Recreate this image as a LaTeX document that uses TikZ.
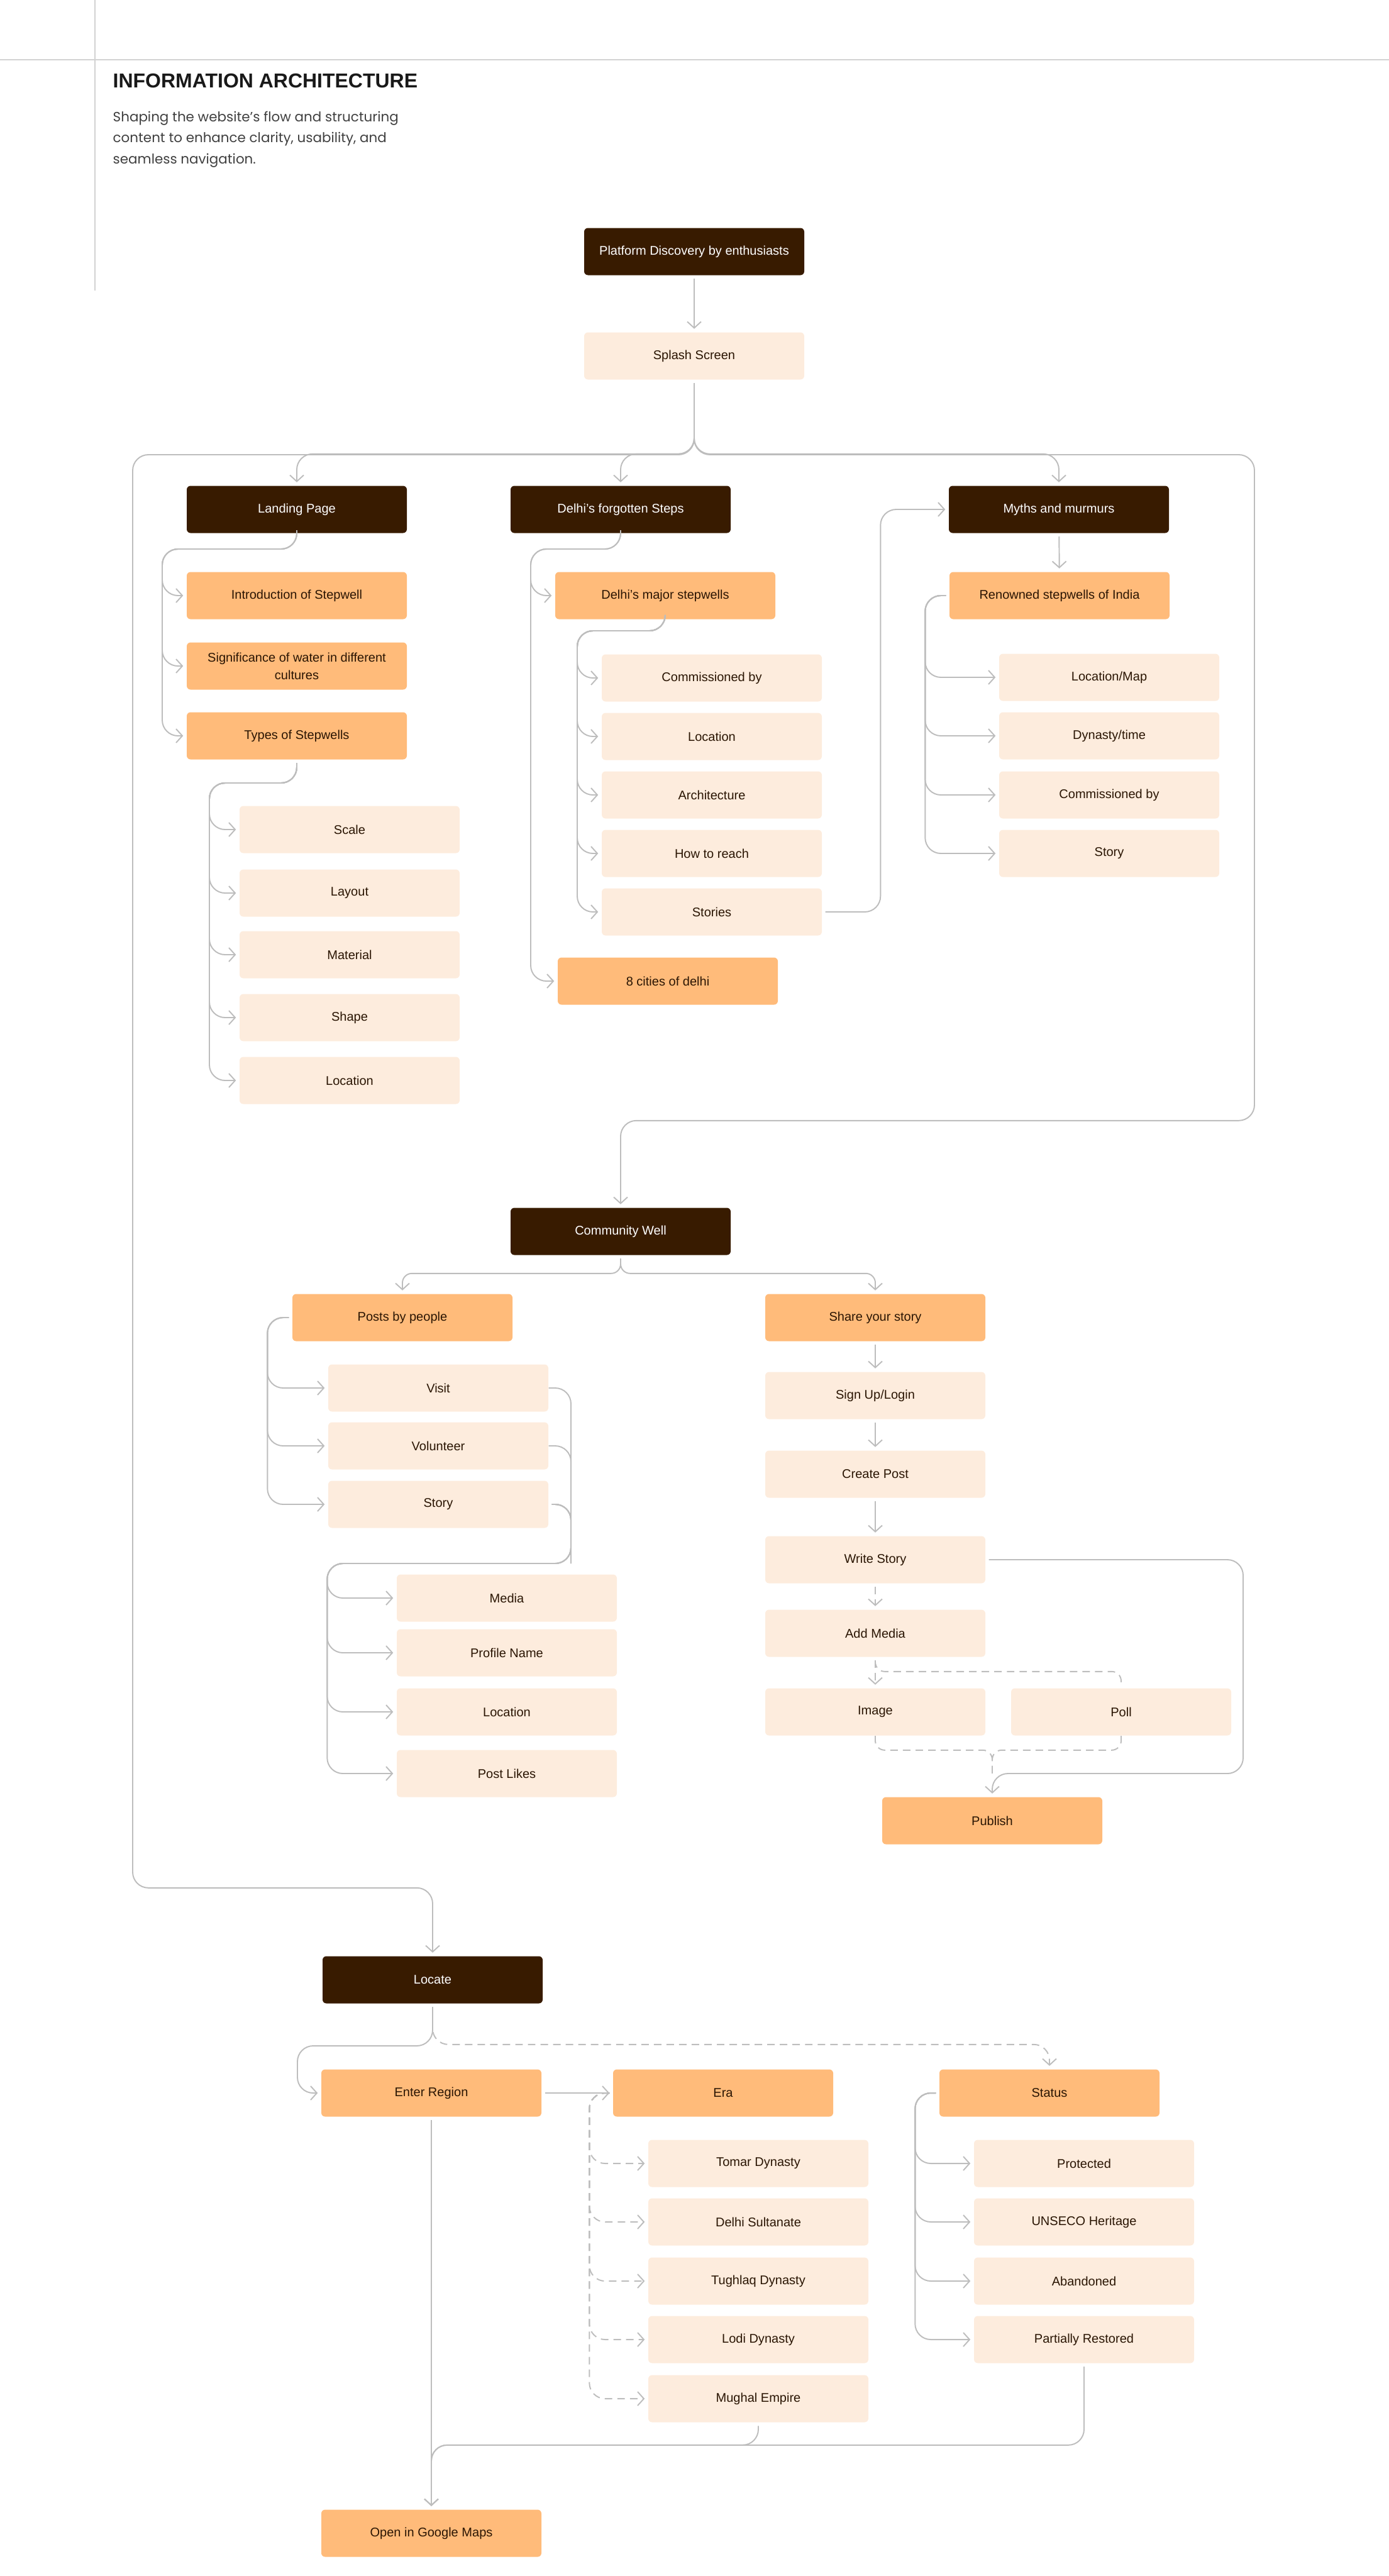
\documentclass[tikz,border=0pt]{standalone}
\usepackage{fontspec}
\setmainfont{Liberation Sans}
\newfontfamily\poppins{Poppins}
\usetikzlibrary{arrows.meta}

\definecolor{wellbrown}{HTML}{381B00}
\definecolor{wellorange}{HTML}{FFBB7A}
\definecolor{wellpeach}{HTML}{FDECDD}
\definecolor{inkbrown}{HTML}{2A1503}
\definecolor{linegray}{HTML}{BDBDBD}
\definecolor{rulegray}{HTML}{D2D2D2}

\begin{document}
\begin{tikzpicture}[
    screen/.style={rectangle, rounded corners=0.6mm, minimum width=3.5cm, minimum height=0.75cm, inner sep=0pt, align=center, font=\fontsize{5.7}{8}\selectfont},
    section/.style={screen, fill=wellbrown, text=white},
    topic/.style={screen, fill=wellorange, text=inkbrown},
    detail/.style={screen, fill=wellpeach, text=inkbrown},
    link/.style={draw=linegray, line width=0.55pt, rounded corners=2.5mm, -{Straight Barb[length=1mm, width=2.2mm]}, shorten <=0.5mm, shorten >=0.5mm},
    optional/.style={link, dash pattern=on 3.4pt off 2.3pt},
    joint/.style={draw=linegray, line width=0.55pt, rounded corners=2.5mm},
]

\useasboundingbox (0,0) rectangle (22.09,-40.96);

\draw[rulegray, line width=0.4pt] (0,-0.95) -- (22.09,-0.95);
\draw[rulegray, line width=0.4pt] (1.51,0) -- (1.51,-4.62);
\node[anchor=west, inner sep=0pt, text=black!90, font=\bfseries\fontsize{9.1}{11}\selectfont] (title) at (1.79,-1.28) {INFORMATION ARCHITECTURE};
\node[anchor=north west, inner sep=0pt, align=left, text=black!75, font=\poppins\fontsize{6.1}{9.6}\selectfont] (subtitle) at (1.79,-1.76) {Shaping the website’s flow and structuring\\content to enhance clarity, usability, and\\seamless navigation.};

\node[section] (platform) at (11.04,-4.00) {Platform Discovery by enthusiasts};
\node[detail] (splash) at (11.04,-5.66) {Splash Screen};

\node[section] (landing) at (4.72,-8.10) {Landing Page};
\node[section] (forgotten) at (9.87,-8.10) {Delhi’s forgotten Steps};
\node[section] (myths) at (16.84,-8.10) {Myths and murmurs};

\node[topic] (intro) at (4.72,-9.47) {Introduction of Stepwell};
\node[topic] (signif) at (4.72,-10.59) {Significance of water in different\\cultures};
\node[topic] (types) at (4.72,-11.70) {Types of Stepwells};
\node[detail] (scale) at (5.56,-13.19) {Scale};
\node[detail] (layout) at (5.56,-14.20) {Layout};
\node[detail] (material) at (5.56,-15.18) {Material};
\node[detail] (shape) at (5.56,-16.18) {Shape};
\node[detail] (typeloc) at (5.56,-17.18) {Location};

\node[topic] (major) at (10.58,-9.47) {Delhi’s major stepwells};
\node[detail] (commiss) at (11.32,-10.78) {Commissioned by};
\node[detail] (majorloc) at (11.32,-11.71) {Location};
\node[detail] (archi) at (11.32,-12.64) {Architecture};
\node[detail] (reach) at (11.32,-13.57) {How to reach};
\node[detail] (stories) at (11.32,-14.50) {Stories};
\node[topic] (cities) at (10.62,-15.60) {8 cities of delhi};

\node[topic] (renowned) at (16.85,-9.47) {Renowned stepwells of India};
\node[detail] (locmap) at (17.64,-10.77) {Location/Map};
\node[detail] (dynasty) at (17.64,-11.70) {Dynasty/time};
\node[detail] (rcommiss) at (17.64,-12.64) {Commissioned by};
\node[detail] (rstory) at (17.64,-13.57) {Story};

\node[section] (community) at (9.87,-19.58) {Community Well};
\node[topic] (posts) at (6.40,-20.95) {Posts by people};
\node[topic] (share) at (13.92,-20.95) {Share your story};
\node[detail] (visit) at (6.97,-22.07) {Visit};
\node[detail] (volunteer) at (6.97,-22.99) {Volunteer};
\node[detail] (poststory) at (6.97,-23.92) {Story};
\node[detail] (media) at (8.06,-25.41) {Media};
\node[detail] (profile) at (8.06,-26.28) {Profile Name};
\node[detail] (postloc) at (8.06,-27.22) {Location};
\node[detail] (likes) at (8.06,-28.20) {Post Likes};
\node[detail] (signup) at (13.92,-22.19) {Sign Up/Login};
\node[detail] (create) at (13.92,-23.44) {Create Post};
\node[detail] (write) at (13.92,-24.80) {Write Story};
\node[detail] (addmedia) at (13.92,-25.97) {Add Media};
\node[detail] (image) at (13.92,-27.22) {Image};
\node[detail] (poll) at (17.83,-27.22) {Poll};
\node[topic] (publish) at (15.78,-28.95) {Publish};

\node[section] (locate) at (6.88,-31.48) {Locate};
\node[topic] (region) at (6.86,-33.28) {Enter Region};
\node[topic] (era) at (11.50,-33.28) {Era};
\node[topic] (status) at (16.69,-33.28) {Status};
\node[detail] (tomar) at (12.06,-34.40) {Tomar Dynasty};
\node[detail] (sultanate) at (12.06,-35.33) {Delhi Sultanate};
\node[detail] (tughlaq) at (12.06,-36.27) {Tughlaq Dynasty};
\node[detail] (lodi) at (12.06,-37.20) {Lodi Dynasty};
\node[detail] (mughal) at (12.06,-38.14) {Mughal Empire};
\node[detail] (protected) at (17.24,-34.40) {Protected};
\node[detail] (unesco) at (17.24,-35.33) {UNSECO Heritage};
\node[detail] (abandoned) at (17.24,-36.27) {Abandoned};
\node[detail] (partial) at (17.24,-37.20) {Partially Restored};
\node[topic] (maps) at (6.86,-40.28) {Open in Google Maps};

\draw[link] (platform) -- (splash);
\draw[link] (splash.south) |- ([yshift=5mm]landing.north) -- (landing.north);
\draw[link] (splash.south) |- ([yshift=5mm]forgotten.north) -- (forgotten.north);
\draw[link] (splash.south) |- ([yshift=5mm]myths.north) -- (myths.north);
\draw[link] (splash.south) |- (19.95,-7.23) |- ([yshift=13.8mm]community.north) -- (community.north);
\draw[link] (splash.south) |- (2.11,-7.23) |- ([yshift=10.8mm]locate.north) -- (locate.north);

\draw[link] (landing.south) |- (2.58,-8.73) |- (intro.west);
\draw[link] (landing.south) |- (2.58,-8.73) |- (signif.west);
\draw[link] (landing.south) |- (2.58,-8.73) |- (types.west);
\draw[link] (types.south) |- (3.33,-12.45) |- (scale.west);
\draw[link] (types.south) |- (3.33,-12.45) |- (layout.west);
\draw[link] (types.south) |- (3.33,-12.45) |- (material.west);
\draw[link] (types.south) |- (3.33,-12.45) |- (shape.west);
\draw[link] (types.south) |- (3.33,-12.45) |- (typeloc.west);

\draw[link] (forgotten.south) |- (8.44,-8.73) |- (major.west);
\draw[link] (forgotten.south) |- (8.44,-8.73) |- (cities.west);
\draw[link] (major.south) |- (9.18,-10.03) |- (commiss.west);
\draw[link] (major.south) |- (9.18,-10.03) |- (majorloc.west);
\draw[link] (major.south) |- (9.18,-10.03) |- (archi.west);
\draw[link] (major.south) |- (9.18,-10.03) |- (reach.west);
\draw[link] (major.south) |- (9.18,-10.03) |- (stories.west);
\draw[link] (stories.east) -| ([xshift=-10.8mm]myths.west) -- (myths.west);

\draw[link] (myths) -- (renowned);
\draw[link] (renowned.west) -| ([xshift=-11.7mm]locmap.west) -- (locmap.west);
\draw[link] (renowned.west) -| ([xshift=-11.7mm]dynasty.west) -- (dynasty.west);
\draw[link] (renowned.west) -| ([xshift=-11.7mm]rcommiss.west) -- (rcommiss.west);
\draw[link] (renowned.west) -| ([xshift=-11.7mm]rstory.west) -- (rstory.west);

\draw[link, rounded corners=1.5mm] (community.south) |- ([yshift=3.2mm]posts.north) -- (posts.north);
\draw[link, rounded corners=1.5mm] (community.south) |- ([yshift=3.2mm]share.north) -- (share.north);
\draw[link] (posts.west) -| ([xshift=-9.6mm]visit.west) -- (visit.west);
\draw[link] (posts.west) -| ([xshift=-9.6mm]volunteer.west) -- (volunteer.west);
\draw[link] (posts.west) -| ([xshift=-9.6mm]poststory.west) -- (poststory.west);
\draw[joint] (visit.east) -| (9.08,-24.86);
\draw[joint] (volunteer.east) -| (9.08,-24.86);
\draw[link] (poststory.east) -| (9.08,-24.86) -| ([xshift=-11mm]media.west) -- (media.west);
\draw[link] (poststory.east) -| (9.08,-24.86) -| ([xshift=-11mm]profile.west) -- (profile.west);
\draw[link] (poststory.east) -| (9.08,-24.86) -| ([xshift=-11mm]postloc.west) -- (postloc.west);
\draw[link] (poststory.east) -| (9.08,-24.86) -| ([xshift=-11mm]likes.west) -- (likes.west);

\draw[link] (share) -- (signup);
\draw[link] (signup) -- (create);
\draw[link] (create) -- (write);
\draw[optional] (write) -- (addmedia);
\draw[optional] (addmedia) -- (image);
\draw[optional, -, rounded corners=1.5mm] (addmedia.south) |- ([yshift=2.6mm]poll.north) -- (poll.north);
\draw[joint, dash pattern=on 3.4pt off 2.3pt, rounded corners=1.5mm] (image.south) |- ([yshift=7.4mm]publish.north) -- ([yshift=3.7mm]publish.north);
\draw[joint, dash pattern=on 3.4pt off 2.3pt, rounded corners=1.5mm] (poll.south) |- ([yshift=7.4mm]publish.north) -- ([yshift=3.7mm]publish.north);
\draw[link] (write.east) -| (19.77,-28.20) -| (publish.north);

\draw[link] (locate.south) |- (4.73,-32.53) |- (region.west);
\draw[optional] (locate.south) |- ([yshift=3.9mm]status.north) -- (status.north);
\draw[link] (region) -- (era);
\draw[optional] (era.west) -| ([xshift=-9.3mm]tomar.west) -- (tomar.west);
\draw[optional] (era.west) -| ([xshift=-9.3mm]sultanate.west) -- (sultanate.west);
\draw[optional] (era.west) -| ([xshift=-9.3mm]tughlaq.west) -- (tughlaq.west);
\draw[optional] (era.west) -| ([xshift=-9.3mm]lodi.west) -- (lodi.west);
\draw[optional] (era.west) -| ([xshift=-9.3mm]mughal.west) -- (mughal.west);
\draw[link] (status.west) -| ([xshift=-9.3mm]protected.west) -- (protected.west);
\draw[link] (status.west) -| ([xshift=-9.3mm]unesco.west) -- (unesco.west);
\draw[link] (status.west) -| ([xshift=-9.3mm]abandoned.west) -- (abandoned.west);
\draw[link] (status.west) -| ([xshift=-9.3mm]partial.west) -- (partial.west);
\draw[link] (region) -- (maps);
\draw[link] (mughal.south) |- ([yshift=10.2mm]maps.north) -- (maps.north);
\draw[link] (partial.south) |- ([yshift=10.2mm]maps.north) -- (maps.north);

\end{tikzpicture}
\end{document}
